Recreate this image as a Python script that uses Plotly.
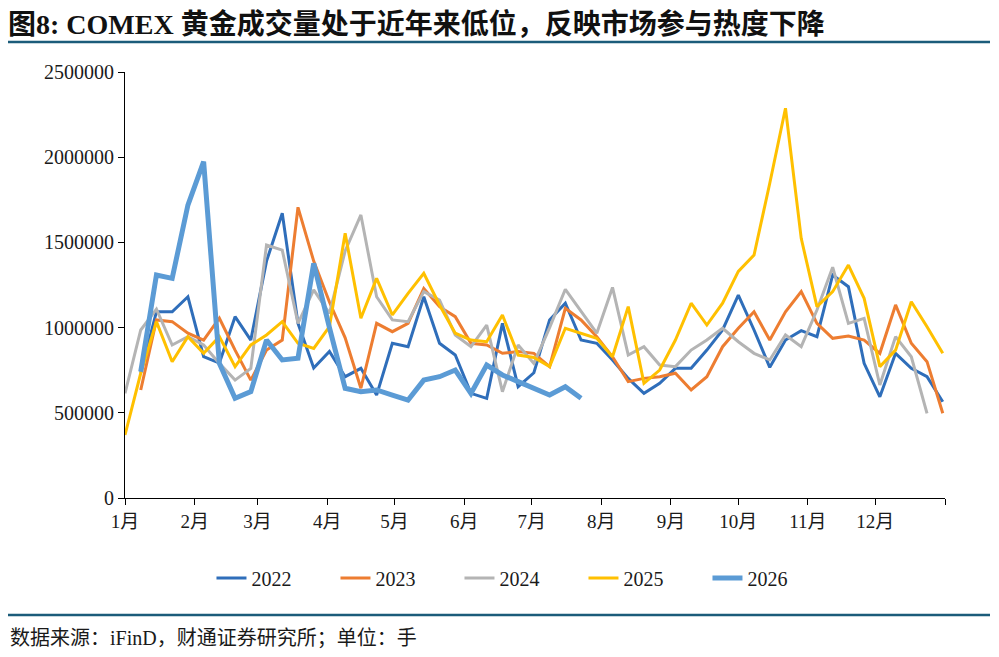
import pandas as pd
import plotly.graph_objects as go

# ---------------- data (weekly COMEX gold volume, 手) ----------------
months = ["1月", "2月", "3月", "4月", "5月", "6月", "7月", "8月", "9月", "10月", "11月", "12月"]
years = ["2022", "2023", "2024", "2025", "2026"]

# first week (month-day) of each series, placed on a common calendar year
start_days = {"2022": "01-08", "2023": "01-08", "2024": "01-01", "2025": "01-01", "2026": "01-08"}

v2022 = [734000, 1093000, 1093000, 1181000, 829000, 792000, 1064000, 927000, 1390000, 1671000,
         1025000, 763000, 860000, 712000, 761000, 604000, 908000, 888000, 1181000, 908000,
         839000, 614000, 585000, 1025000, 653000, 735000, 1045000, 1143000, 927000, 908000,
         810000, 702000, 614000, 673000, 761000, 761000, 868000, 986000, 1191000, 986000,
         767000, 927000, 982000, 947000, 1309000, 1240000, 790000, 594000, 849000, 761000,
         712000, 565000]
v2023 = [634000, 1045000, 1035000, 967000, 927000, 1055000, 868000, 692000, 868000, 927000,
         1706000, 1390000, 1150000, 940000, 644000, 1025000, 976000, 1025000, 1230000, 1123000,
         1064000, 908000, 898000, 849000, 859000, 849000, 771000, 1113000, 1045000, 947000,
         829000, 683000, 702000, 712000, 732000, 634000, 712000, 888000, 996000, 1093000,
         927000, 1093000, 1211000, 1025000, 937000, 951000, 927000, 849000, 1133000, 908000,
         800000, 497000]
v2024 = [614000, 986000, 1108000, 898000, 947000, 898000, 790000, 692000, 761000, 1485000,
         1455000, 1025000, 1221000, 1084000, 1450000, 1661000, 1181000, 1045000, 1035000, 1211000,
         1162000, 957000, 888000, 1015000, 624000, 898000, 790000, 1000000, 1225000, 1093000,
         967000, 1236000, 839000, 888000, 780000, 771000, 868000, 927000, 996000, 917000,
         849000, 810000, 957000, 888000, 1103000, 1354000, 1025000, 1054000, 663000, 947000,
         829000, 497000]
v2025 = [370000, 732000, 1035000, 800000, 947000, 849000, 947000, 771000, 898000, 957000,
         1035000, 908000, 878000, 1005000, 1553000, 1055000, 1289000, 1074000, 1201000, 1318000,
         1133000, 967000, 927000, 917000, 1074000, 839000, 825000, 771000, 996000, 967000,
         937000, 829000, 1123000, 673000, 751000, 927000, 1143000, 1015000, 1143000, 1330000,
         1426000, 1847000, 2287000, 1524000, 1123000, 1211000, 1367000, 1172000, 771000, 868000,
         1152000, 1005000, 849000]
v2026 = [741000, 1309000, 1289000, 1719000, 1974000, 790000, 585000, 624000, 927000, 810000,
         820000, 1377000, 1000000, 644000, 624000, 634000, 604000, 575000, 692000, 712000,
         751000, 614000, 780000, 722000, 683000, 644000, 604000, 653000, 585000]

series_values = {"2022": v2022, "2023": v2023, "2024": v2024, "2025": v2025, "2026": v2026}
y_ticks = [0, 500000, 1000000, 1500000, 2000000, 2500000]

# ---------------- styles ----------------
colors = {"2022": "#2F6EBA", "2023": "#ED7D31", "2024": "#B4B4B4", "2025": "#FFC000", "2026": "#5B9BD5"}
widths = {"2022": 3, "2023": 3, "2024": 3, "2025": 3, "2026": 5}
BASE_YEAR = 2022
SERIF = "Liberation Serif, 'Times New Roman', 'Noto Sans CJK SC', serif"
TXT = "#1a1a1a"

fig = go.Figure()
for yr in years:
    vals = series_values[yr]
    x = pd.date_range(start=f"{BASE_YEAR}-{start_days[yr]}", periods=len(vals), freq="7D")
    fig.add_trace(go.Scatter(
        x=x, y=vals, mode="lines", name=yr,
        line=dict(color=colors[yr], width=widths[yr]),
    ))

tickvals = [f"{BASE_YEAR}-{m:02d}-01" for m in range(1, 13)] + [f"{BASE_YEAR + 1}-01-01"]
ticktext = months + [""]

fig.update_layout(
    width=999, height=657,
    margin=dict(l=125, r=54, t=72, b=159),
    paper_bgcolor="white", plot_bgcolor="white",
    font=dict(family=SERIF, size=18, color=TXT),
    showlegend=True,
    legend=dict(
        orientation="h", xref="container", yref="container",
        x=0.522, xanchor="center", y=1 - 578 / 657, yanchor="middle",
        font=dict(family=SERIF, size=20, color=TXT),
        itemwidth=30, entrywidth=79, entrywidthmode="pixels",
        bgcolor="rgba(0,0,0,0)",
    ),
    title=dict(
        text="<b>图8: COMEX 黄金成交量处于近年来低位，反映市场参与热度下降</b>",
        xref="container", yref="container",
        x=8 / 999, xanchor="left", y=1 - 24 / 657, yanchor="middle",
        font=dict(family="Liberation Serif, 'Noto Sans CJK SC', serif", size=28, color="#111111"),
    ),
)

fig.update_xaxes(
    type="date",
    range=[f"{BASE_YEAR}-01-01", f"{BASE_YEAR + 1}-01-01"],
    tickvals=tickvals, ticktext=ticktext,
    showgrid=False, zeroline=False,
    showline=True, linecolor="black", linewidth=1,
    ticks="outside", ticklen=6, tickcolor="black",
    tickfont=dict(family=SERIF, size=19, color=TXT),
)
fig.update_yaxes(
    range=[0, 2500000],
    tickvals=y_ticks, ticktext=[str(v) for v in y_ticks],
    showgrid=False, zeroline=False,
    showline=True, linecolor="black", linewidth=1,
    ticks="outside", ticklen=6, tickcolor="black",
    tickfont=dict(family=SERIF, size=20, color=TXT),
)

rule_color = "#1B5C7A"
x0p = (8 - 125) / 820
x1p = (990 - 125) / 820
fig.add_shape(type="line", xref="paper", yref="paper", x0=x0p, x1=x1p,
              y0=(498 - 42) / 426, y1=(498 - 42) / 426, line=dict(color=rule_color, width=2.5))
fig.add_shape(type="line", xref="paper", yref="paper", x0=x0p, x1=x1p,
              y0=(498 - 615) / 426, y1=(498 - 615) / 426, line=dict(color=rule_color, width=2.5))

fig.add_annotation(
    text="数据来源：iFinD，财通证券研究所；单位：手",
    xref="paper", yref="paper", x=x0p, y=(498 - 638) / 426,
    xanchor="left", yanchor="middle", showarrow=False,
    font=dict(family=SERIF, size=20, color=TXT),
)

fig.write_html("out.html")
